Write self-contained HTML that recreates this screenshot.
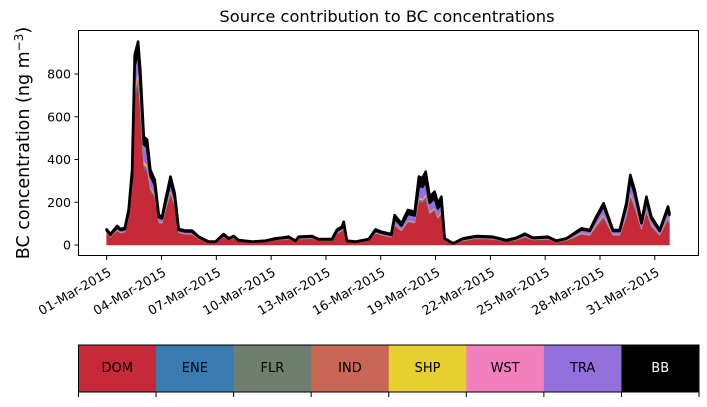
<!DOCTYPE html>
<html><head><meta charset="utf-8"><style>
body{margin:0;background:#fff;width:707px;height:402px;overflow:hidden;font-family:"Liberation Sans","DejaVu Sans",sans-serif}
svg text{font-family:"DejaVu Sans","Liberation Sans",sans-serif}
</style></head><body>
<svg id="chart" width="707" height="402" xmlns="http://www.w3.org/2000/svg">
<text x="387" y="22" text-anchor="middle" font-size="16.3">Source contribution to BC concentrations</text>
<g id="plot"></g>
<rect x="78.5" y="30.5" width="620" height="225" fill="none" stroke="#000" stroke-width="1"/>
<text transform="translate(29,143) rotate(-90)" text-anchor="middle" font-size="17.5">BC concentration (ng m<tspan dy="-6" font-size="12">−3</tspan><tspan dy="6">)</tspan></text>
<g id="legend"></g>
</svg>
<script>
const days=[0,0.2,0.57,0.75,0.99,1.2,1.39,1.53,1.72,1.84,2.03,2.21,2.39,2.63,2.85,3.03,3.25,3.49,3.72,3.94,4.31,4.67,5.04,5.58,5.95,6.4,6.68,6.95,7.22,7.95,8.69,9.23,9.6,9.96,10.33,10.51,11.24,11.6,12.33,12.61,12.88,12.97,13.15,13.61,14.34,14.71,14.98,15.58,15.76,16.13,16.49,16.86,17.09,17.28,17.46,17.68,17.95,18.13,18.32,18.5,18.96,19.5,20.23,21.14,21.88,22.43,22.88,23.33,24.15,24.61,25.16,25.98,26.44,26.8,27.2,27.71,28.08,28.44,28.66,28.9,29.27,29.54,29.81,30.27,30.72,30.8];
const dom=[54,35,66,55,59,122,255,680,752,605,357,343,251,220,102,97,165,236,178,55,49,49,26,13,13,35,25,29,18,13,16,25,23,26,16,26,29,22,22,54,64,77,16,13,22,54,46,35,91,63,106,100,205,197,216,143,160,121,143,18,6,18,28,25,18,22,36,22,25,16,19,48,42,84,125,42,42,125,223,172,70,152,84,42,118,96];
const ene=[1,1,1,1,1,2,5,12,14,12,7,7,5,4,2,2,3,4,3,1,1,1,1,0,0,1,0,1,0,0,0,0,1,1,0,1,1,0,0,1,1,2,0,0,0,1,1,1,2,2,2,2,4,4,5,3,3,3,3,1,0,1,1,1,0,1,1,1,1,0,1,2,2,3,4,2,2,4,5,4,2,3,3,2,3,3];
const flr=[1,1,1,1,1,2,5,12,14,12,7,7,5,4,2,2,3,4,3,1,1,1,1,0,0,1,0,1,0,0,0,0,1,1,0,1,1,0,0,1,1,2,0,0,0,1,1,1,2,2,2,2,4,4,5,3,3,3,3,1,0,1,1,1,0,1,1,1,1,0,1,2,2,3,4,2,2,4,5,4,2,3,3,2,3,3];
const ind=[1,1,1,1,1,2,5,12,14,12,7,7,5,4,2,2,3,4,3,1,1,1,1,0,0,1,0,1,0,0,0,0,1,1,0,1,1,0,0,1,1,2,0,0,0,1,1,1,2,2,2,2,4,4,5,3,3,3,3,1,0,1,1,1,0,1,1,1,1,0,1,2,2,3,4,2,2,4,5,4,2,3,3,2,3,3];
const shp=[1,1,1,1,1,2,5,12,14,12,7,7,5,4,2,2,3,4,3,1,1,1,1,0,0,1,0,1,0,0,0,0,1,1,0,1,1,0,0,1,1,2,0,0,0,1,1,1,2,2,2,2,4,4,5,3,3,3,3,1,0,1,1,1,0,1,1,1,1,0,1,2,2,3,4,2,2,4,5,4,2,3,3,2,3,3];
const wst=[1,1,1,1,1,2,5,12,14,12,7,7,5,4,2,2,3,4,3,1,1,1,1,0,0,1,0,1,0,0,0,0,1,1,0,1,1,0,0,1,1,2,0,0,0,1,1,1,2,2,2,2,4,4,5,3,3,3,3,1,0,1,1,1,0,1,1,1,1,0,1,2,2,3,4,2,2,4,5,4,2,3,3,2,3,3];
const tra=[9,7,12,10,10,21,46,100,90,110,80,80,50,42,18,17,30,42,32,10,9,9,5,2,2,7,4,5,3,2,3,4,4,5,3,5,5,4,4,9,11,14,3,2,4,9,8,7,25,18,30,28,55,55,60,40,45,35,40,5,1,5,6,6,3,5,8,5,6,3,5,15,14,26,38,14,14,38,60,50,22,45,26,14,36,30];
const bb=[5,4,6,5,6,11,25,50,40,45,35,35,25,22,10,9,16,22,17,5,5,5,3,1,1,4,2,3,2,1,1,2,2,3,1,3,3,2,2,5,6,8,1,1,2,5,4,4,14,10,18,18,40,40,42,28,30,24,28,3,1,3,3,3,2,2,4,2,3,1,2,5,4,8,12,4,4,12,20,16,7,14,8,4,11,9];
const seriesNames=["DOM","ENE","FLR","IND","SHP","WST","TRA","BB"];
const yTicks=[0,200,400,600,800];
const xTickDays=[0,3,6,9,12,15,18,21,24,27,30];
const xTickLabels=["01-Mar-2015","04-Mar-2015","07-Mar-2015","10-Mar-2015","13-Mar-2015","16-Mar-2015","19-Mar-2015","22-Mar-2015","25-Mar-2015","28-Mar-2015","31-Mar-2015"];

const NS="http://www.w3.org/2000/svg";
const colors=["#c62938","#3a7bb2","#6d7f6f","#c96757","#e7cf2f","#f280bf","#9370db","#000000"];
const X=d=>106.7+d*18.27;
const Y=v=>245-v*0.2137;
const plot=document.getElementById('plot');
const all=[dom,ene,flr,ind,shp,wst,tra,bb];
let base=days.map(()=>0);
all.forEach((s,k)=>{
  const top=base.map((b,i)=>b+s[i]);
  let d="M"+days.map((t,i)=>X(t).toFixed(1)+","+Y(top[i]).toFixed(1)).join("L");
  for(let i=days.length-1;i>=0;i--)d+="L"+X(days[i]).toFixed(1)+","+Y(base[i]).toFixed(1);
  const p=document.createElementNS(NS,'path');
  p.setAttribute('d',d+"Z");
  p.setAttribute('fill',colors[k]);
  p.setAttribute('stroke',colors[k]);
  p.setAttribute('stroke-width',k==7?'2.6':'0.6');
  p.setAttribute('stroke-linejoin','round');
  
  
  plot.appendChild(p);
  base=top;
});
yTicks.forEach(v=>{
  const l=document.createElementNS(NS,'line');
  l.setAttribute('x1',74.5);l.setAttribute('x2',78.5);l.setAttribute('y1',Y(v));l.setAttribute('y2',Y(v));l.setAttribute('stroke','#000');
  
  
  plot.appendChild(l);
  const t=document.createElementNS(NS,'text');
  t.setAttribute('x',71);t.setAttribute('y',Y(v)+4.5);t.setAttribute('text-anchor','end');t.setAttribute('font-size','12.5');
  t.textContent=v;
  
  
  plot.appendChild(t);
});
xTickDays.forEach((d,i)=>{
  const x=X(d);
  const l=document.createElementNS(NS,'line');
  l.setAttribute('x1',x);l.setAttribute('x2',x);l.setAttribute('y1',255.5);l.setAttribute('y2',260);l.setAttribute('stroke','#000');
  
  
  plot.appendChild(l);
  const t=document.createElementNS(NS,'text');
  t.setAttribute('transform','translate('+(x+1)+',267) rotate(-30)');
  t.setAttribute('text-anchor','end');t.setAttribute('font-size','12.8');t.setAttribute('dy','0.7em');
  t.textContent=xTickLabels[i];
  
  
  plot.appendChild(t);
});
const lg=document.getElementById('legend');
const w=(699-78.5)/8;
seriesNames.forEach((n,k)=>{
  const x0=78.5+k*w;
  const r=document.createElementNS(NS,'rect');
  r.setAttribute('x',x0);r.setAttribute('y',345);r.setAttribute('width',w+0.5);r.setAttribute('height',47);r.setAttribute('fill',colors[k]);
  
  
  lg.appendChild(r);
  const t=document.createElementNS(NS,'text');
  t.setAttribute('x',x0+w/2);t.setAttribute('y',372);t.setAttribute('text-anchor','middle');t.setAttribute('font-size','13');
  t.setAttribute('fill',k==7?'#fff':'#000');
  t.textContent=n;
  
  
  lg.appendChild(t);
});
for(let k=0;k<=8;k++){
  const x=78.5+k*w;
  const l=document.createElementNS(NS,'line');
  l.setAttribute('x1',x);l.setAttribute('x2',x);l.setAttribute('y1',392);l.setAttribute('y2',397);l.setAttribute('stroke','#000');
  
  
  lg.appendChild(l);
}
const fr=document.createElementNS(NS,'rect');
fr.setAttribute('x',78.5);fr.setAttribute('y',345);fr.setAttribute('width',620.5);fr.setAttribute('height',47);fr.setAttribute('fill','none');fr.setAttribute('stroke','#000');


lg.appendChild(fr);
</script>
</body></html>
